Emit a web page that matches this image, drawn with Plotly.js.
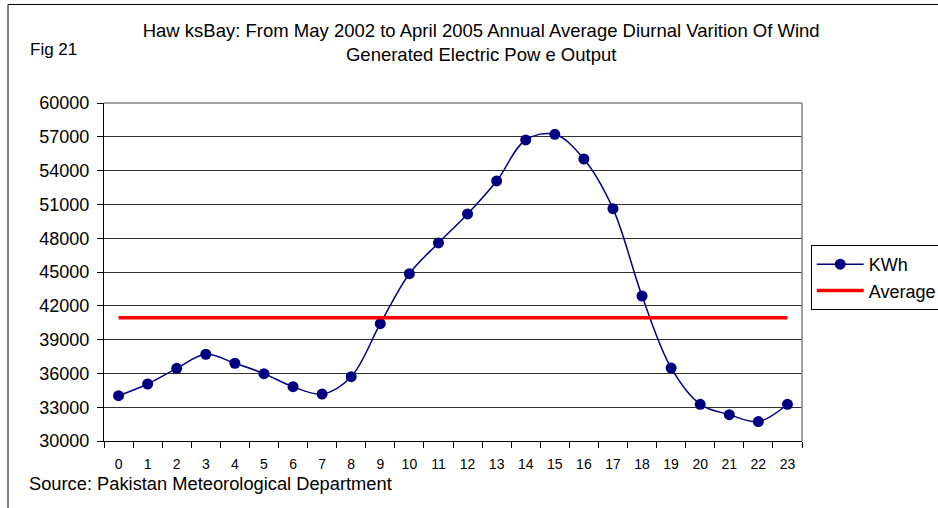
<!DOCTYPE html>
<html>
<head>
<meta charset="utf-8">
<script src="https://cdn.plot.ly/plotly-3.0.1.min.js"></script>
<style>
html,body{margin:0;padding:0;background:#fff;}
#chart{width:938px;height:508px;}
</style>
</head>
<body>
<div id="chart"></div>
<script>
var hours = ["0","1","2","3","4","5","6","7","8","9","10","11","12","13","14","15","16","17","18","19","20","21","22","23"];
var kwh = [34020, 35060, 36450, 37700, 36900, 35980, 34820, 34170, 35710, 40410, 44850, 47580, 50150, 53080, 56720, 57220, 55030, 50620, 42870, 36480, 33260, 32340, 31720, 33260];
var average = [40950, 40950, 40950, 40950, 40950, 40950, 40950, 40950, 40950, 40950, 40950, 40950, 40950, 40950, 40950, 40950, 40950, 40950, 40950, 40950, 40950, 40950, 40950, 40950];
var yTicks = [30000, 33000, 36000, 39000, 42000, 45000, 48000, 51000, 54000, 57000, 60000];
var titleText = "Haw ksBay: From May 2002 to April 2005 Annual Average Diurnal Varition Of Wind<br>Generated Electric Pow e Output";
var figLabel = "Fig 21";
var sourceText = "Source: Pakistan Meteorological Department";

var FONT = "Liberation Sans, Arial, sans-serif";

var traces = [
  {
    x: hours, y: kwh, name: "KWh", type: "scatter", mode: "lines+markers",
    line: {color: "#000080", width: 1.5, shape: "spline", smoothing: 1},
    marker: {color: "#000080", size: 11}
  },
  {
    x: hours, y: average, name: "Average", type: "scatter", mode: "lines",
    line: {color: "#ff0000", width: 3.5}
  }
];

var layout = {
  width: 938, height: 508,
  paper_bgcolor: "#ffffff", plot_bgcolor: "#ffffff",
  margin: {l: 104, r: 136, t: 103, b: 67, autoexpand: false},
  font: {family: FONT, color: "#000000", size: 17},
  title: {
    text: titleText,
    font: {family: FONT, size: 18.5, color: "#000000"},
    x: 0.513, xref: "container", xanchor: "center",
    y: 0.927, yref: "container", yanchor: "middle"
  },
  showlegend: true,
  legend: {
    x: 1.0125, y: 0.58, xanchor: "left", yanchor: "top",
    bordercolor: "#000000", borderwidth: 1, bgcolor: "#ffffff",
    font: {family: FONT, size: 18, color: "#000000"},
    itemwidth: 47, tracegroupgap: 0
  },
  xaxis: {
    type: "category", range: [-0.5, 23.5],
    tickson: "boundaries", ticks: "outside", ticklen: 6, tickcolor: "#000000", tickwidth: 1,
    showline: true, linecolor: "#000000", linewidth: 1,
    showgrid: false, zeroline: false,
    tickfont: {family: FONT, size: 14, color: "#000000"},
    ticklabelstandoff: 10, fixedrange: true
  },
  yaxis: {
    range: [30000, 60000], tickvals: yTicks, ticktext: yTicks.map(String),
    ticks: "outside", ticklen: 6, tickcolor: "#000000", tickwidth: 1,
    showline: true, linecolor: "#000000", linewidth: 1,
    showgrid: true, gridcolor: "#303030", gridwidth: 1, zeroline: false,
    tickfont: {family: FONT, size: 18, color: "#000000"},
    ticklabelstandoff: 4, fixedrange: true
  },
  shapes: [
    {type: "line", xref: "paper", yref: "paper", x0: 0, x1: 1, y0: 1, y1: 1, line: {color: "#808080", width: 1.5}},
    {type: "line", xref: "paper", yref: "paper", x0: 1, x1: 1, y0: 0, y1: 1, line: {color: "#808080", width: 1.5}},
    {type: "line", xref: "paper", yref: "paper", x0: -0.1375, x1: -0.1375, y0: -0.3, y1: 1.2915, line: {color: "#000000", width: 1}},
    {type: "line", xref: "paper", yref: "paper", x0: -0.1375, x1: 1.3, y0: 1.2915, y1: 1.2915, line: {color: "#000000", width: 1}}
  ],
  annotations: [
    {text: figLabel, xref: "paper", yref: "paper", x: -0.109, y: 1.158, xanchor: "left", yanchor: "middle", showarrow: false, font: {family: FONT, size: 17, color: "#000000"}},
    {text: sourceText, xref: "paper", yref: "paper", x: -0.1105, y: -0.127, xanchor: "left", yanchor: "middle", showarrow: false, font: {family: FONT, size: 18.3, color: "#000000"}}
  ]
};

Plotly.newPlot("chart", traces, layout, {displayModeBar: false, staticPlot: true});
</script>
</body>
</html>
